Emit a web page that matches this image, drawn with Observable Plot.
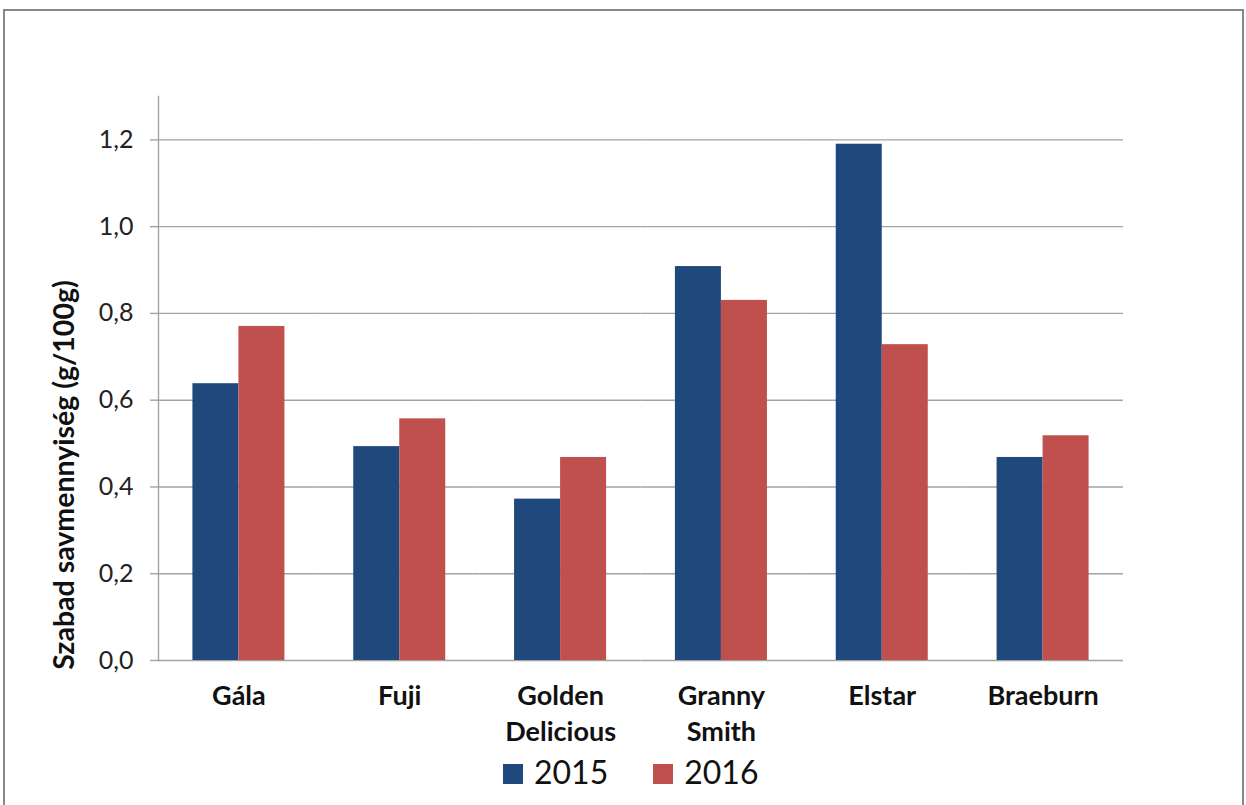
<!DOCTYPE html>
<html><head><meta charset="utf-8">
<script src="https://cdn.jsdelivr.net/npm/d3@7"></script>
<script src="https://cdn.jsdelivr.net/npm/@observablehq/plot@0.6"></script>
<style>
body{margin:0;background:#fff;font-family:Lato,"Open Sans",sans-serif;}
#wrap{position:relative;width:1246px;height:805px;overflow:hidden;background:#fff;}
#border{position:absolute;left:3px;top:9px;width:1241px;height:820px;border:2px solid #888;box-sizing:border-box;}
#chart{position:absolute;left:0;top:0;}
#ylabel{position:absolute;left:-187px;top:459px;width:500px;height:32px;line-height:32px;text-align:center;font-weight:bold;font-size:28.5px;color:#111;transform:rotate(-90deg);white-space:nowrap;}
#legend{position:absolute;left:503px;top:754px;font-size:32px;line-height:36px;color:#111;white-space:nowrap;}
#legend .sw{display:inline-block;width:20px;height:20px;vertical-align:middle;margin-right:11px;position:relative;top:-2px;}
</style>
</head><body>
<div id="wrap">
  <div id="border"></div>
  <div id="chart"></div>
  <div id="ylabel"></div>
  <div id="legend"></div>
</div>
<script>
const categories = ["Gála","Fuji","Golden Delicious","Granny Smith","Elstar","Braeburn"];
const tickLabels = ["Gála","Fuji","Golden\nDelicious","Granny\nSmith","Elstar","Braeburn"];
const years = ["2015","2016"];
const values2015 = [0.638,0.493,0.372,0.908,1.19,0.468];
const values2016 = [0.770,0.557,0.468,0.830,0.728,0.518];
const yTicks = [0,0.2,0.4,0.6,0.8,1.0,1.2];
const colors = ["#1F497D","#C0504D"];
const yTitle = "Szabad savmennyiség (g/100g)";

const data = [];
categories.forEach((c,i)=>{
  data.push({cat:c, year:years[0], value:values2015[i]});
  data.push({cat:c, year:years[1], value:values2016[i]});
});
const fmt = d => d3.format(".1f")(d).replace(".", ",");

const chart = Plot.plot({
  width:1246, height:760,
  marginLeft:158, marginRight:123, marginTop:96, marginBottom:100,
  style:{fontFamily:"Lato, 'Open Sans', sans-serif", background:"transparent"},
  fx:{domain:categories, padding:0, round:false, label:null, axis:null},
  x:{domain:years, paddingInner:0, paddingOuter:0.748, round:false, axis:null},
  y:{domain:[0,1.3], ticks:yTicks, axis:null},
  color:{domain:years, range:colors},
  marks:[
    Plot.gridY(yTicks, {stroke:"#a3a3a3", strokeOpacity:1, strokeWidth:1.4}),
    Plot.frame({anchor:"left", stroke:"#a3a3a3", strokeWidth:1.4, fx:["Gála"]}),
    Plot.axisY(yTicks, {tickSize:8, tickPadding:17, tickFormat:fmt, fontSize:25, stroke:"#a3a3a3", strokeWidth:1.4, fill:"#222", label:null}),
    Plot.barY(data, {fx:"cat", x:"year", y:"value", fill:"year"}),
    Plot.axisFx({anchor:"bottom", tickSize:0, tickPadding:19, tickFormat:d=>tickLabels[categories.indexOf(d)], fontSize:27, fontWeight:"bold", lineHeight:1.33, fill:"#111", label:null})
  ]
});
document.getElementById("chart").appendChild(chart);
document.getElementById("ylabel").textContent = yTitle;
document.getElementById("legend").innerHTML = years.map((y,i)=>
  `<span class="sw" style="background:${colors[i]}${i? ";margin-left:45px":""}"></span>${y}`).join("");
</script>
</body></html>
